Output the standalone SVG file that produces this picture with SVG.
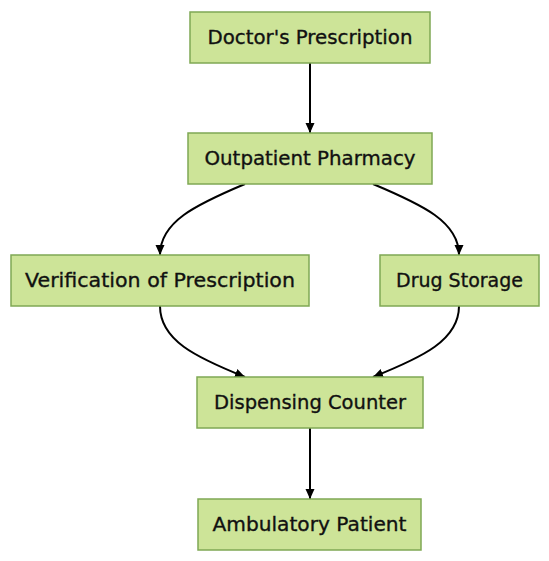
<svg xmlns="http://www.w3.org/2000/svg" width="549" height="561" viewBox="0 0 549 561">
<style>
.node rect{fill:#cde498;stroke:#7fa854;stroke-width:1.5}
.node text{font-family:"DejaVu Sans",sans-serif;font-size:20px;fill:#111;stroke:#111;stroke-width:0.35;text-anchor:middle;dominant-baseline:central}
.edge{fill:none;stroke:#000;stroke-width:2}
</style>
<defs>
<marker id="arr" markerWidth="11" markerHeight="11" refX="10" refY="5.5" orient="auto" markerUnits="userSpaceOnUse">
<path d="M0,1 L10,5.5 L0,10 z" fill="#000"/>
</marker>
</defs>
<rect width="549" height="561" fill="#fff"/>
<g id="connectors">
<path class="edge" d="M310,63 L310,133" marker-end="url(#arr)"/>
<path class="edge" d="M245,184 C195,205 160,222 160,255" marker-end="url(#arr)"/>
<path class="edge" d="M373,184 C423,205 459,222 459,255" marker-end="url(#arr)"/>
<path class="edge" d="M160,306 C160,340 195,357 245,377" marker-end="url(#arr)"/>
<path class="edge" d="M459,306 C459,340 423,357 373,377" marker-end="url(#arr)"/>
<path class="edge" d="M310,428 L310,499" marker-end="url(#arr)"/>
</g>
<g id="n1" class="node"><rect x="190" y="12" width="240" height="51"/><text x="310" y="37" textLength="205" lengthAdjust="spacingAndGlyphs">Doctor's Prescription</text></g>
<g id="n2" class="node"><rect x="188" y="133" width="244" height="51"/><text x="310" y="158" textLength="211" lengthAdjust="spacingAndGlyphs">Outpatient Pharmacy</text></g>
<g id="n3" class="node"><rect x="11" y="255" width="298" height="51"/><text x="160" y="280" textLength="270" lengthAdjust="spacingAndGlyphs">Verification of Prescription</text></g>
<g id="n4" class="node"><rect x="380" y="255" width="159" height="51"/><text x="459.5" y="280" textLength="127" lengthAdjust="spacingAndGlyphs">Drug Storage</text></g>
<g id="n5" class="node"><rect x="197" y="377" width="226" height="51"/><text x="310" y="402" textLength="192" lengthAdjust="spacingAndGlyphs">Dispensing Counter</text></g>
<g id="n6" class="node"><rect x="198" y="499" width="223" height="51"/><text x="309.5" y="524" textLength="194" lengthAdjust="spacingAndGlyphs">Ambulatory Patient</text></g>
</svg>
